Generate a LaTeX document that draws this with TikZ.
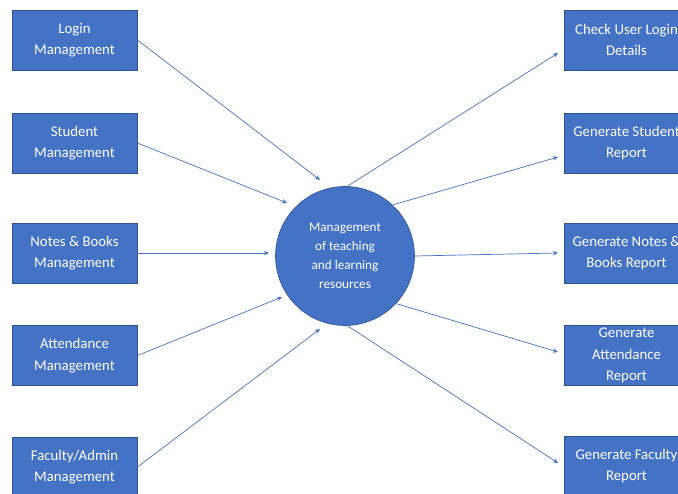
\documentclass[tikz,border=0pt]{standalone}
\usepackage{fontspec}
\setmainfont{Carlito}
\usetikzlibrary{arrows.meta}
\definecolor{boxblue}{HTML}{4472C4}
\definecolor{boxedge}{HTML}{2F528F}
\begin{document}
\begin{tikzpicture}[x=1pt,y=-1pt,
  procbox/.style={rectangle, fill=boxblue, draw=boxedge, line width=0.8pt,
    minimum width=125pt, minimum height=60pt, inner sep=0pt,
    text=white, align=center, font=\fontsize{14.8}{21.5}\selectfont},
  hub/.style={circle, fill=boxblue, draw=boxedge, line width=0.6pt,
    minimum size=139pt, inner sep=0pt,
    text=white, align=center, font=\fontsize{13.2}{19}\selectfont},
  flow/.style={draw=boxblue, line width=0.7pt,
    -{Stealth[length=5pt,width=4.5pt]}}]
\useasboundingbox (0,0) rectangle (678,494);
\clip (0,0) rectangle (678,494);
\fill[white] (0,0) rectangle (678,494);

% central process
\node[hub] (c) at (345,256) {Management\\of teaching\\and learning\\resources};

% input modules
\node[procbox] (l1) at (74.5,40)  {Login\\Management};
\node[procbox] (l2) at (74.5,143) {Student\\Management};
\node[procbox] (l3) at (74.5,253) {Notes \& Books\\Management};
\node[procbox] (l4) at (74.5,355.5) {Attendance\\Management};
\node[procbox] (l5) at (74.5,467) {Faculty/Admin\\Management};

% output reports
\node[procbox] (r1) at (626.5,40)  {Check User Login\\Details};
\node[procbox] (r2) at (626.5,143) {Generate Student\\Report};
\node[procbox] (r3) at (626.5,253) {Generate Notes \&\\Books Report};
\node[procbox] (r4) at (626.5,355.5) {Generate\\Attendance\\Report};
\node[procbox] (r5) at (626.5,466) {Generate Faculty\\Report};

% arrow tips near the hub and the reports
\coordinate (e1) at (320,180);
\coordinate (e2) at (287,203);
\coordinate (e3) at (269,253);
\coordinate (e4) at (282,297);
\coordinate (e5) at (320,329);
\coordinate (f1) at (558,53);
\coordinate (f2) at (558,157);
\coordinate (f3) at (558,253);
\coordinate (f4) at (558,352);
\coordinate (f5) at (558,463);

\draw[flow] (l1.east) -- (e1);
\draw[flow] (l2.east) -- (e2);
\draw[flow] (l3.east) -- (e3);
\draw[flow] (l4.east) -- (e4);
\draw[flow] (l5.east) -- (e5);

\draw[flow] (c.88)  -- (f1);
\draw[flow] (c.47)  -- (f2);
\draw[flow] (c.0)   -- (f3);
\draw[flow] (c.-43) -- (f4);
\draw[flow] (c.-88) -- (f5);
\end{tikzpicture}
\end{document}
